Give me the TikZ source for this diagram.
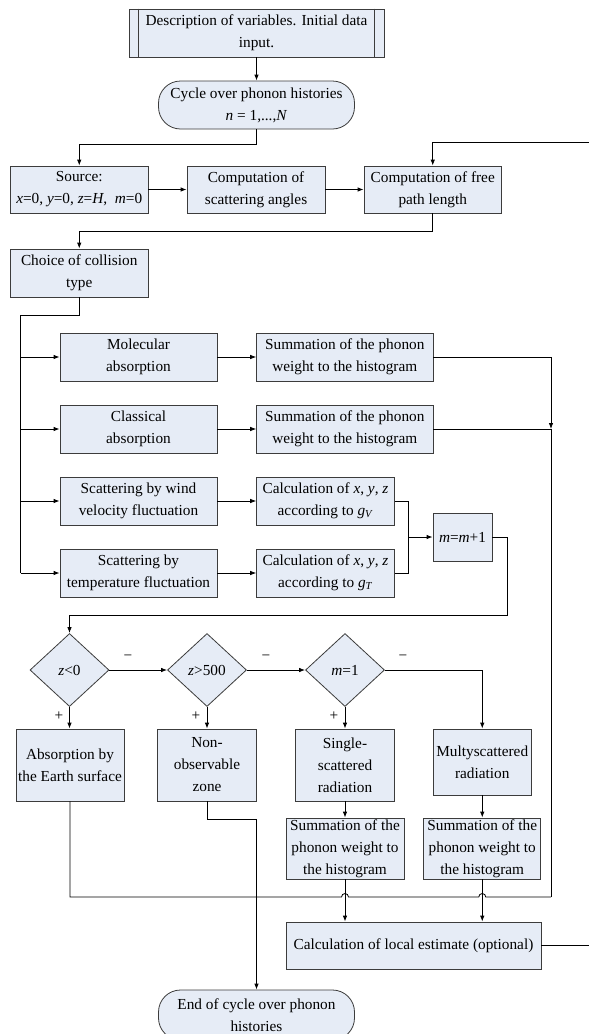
\documentclass[tikz,border=0pt]{standalone}
\usepackage{fontspec}
\setmainfont{Liberation Serif}
\usetikzlibrary{arrows.meta,shapes.geometric}
\definecolor{boxfill}{RGB}{230,236,246}
\definecolor{boxline}{RGB}{60,60,60}
\tikzset{
  x=1pt,y=1pt,
  base/.style={draw=boxline, fill=boxfill, line width=0.8pt, inner sep=1pt, align=center,
    font=\fontsize{15.3}{22}\selectfont, anchor=center},
  box/.style={base, rectangle},
  pill/.style={base, rectangle, rounded corners=22pt},
  dia/.style={base, diamond, inner sep=0pt},
  conn/.style={draw=black, line width=0.8pt},
  arr/.style={conn, -{Latex[length=6pt,width=4.5pt]}},
  lbl/.style={font=\fontsize{15.3}{18}\selectfont, inner sep=0pt}
}
\begin{document}
\begin{tikzpicture}
\clip (0,0) rectangle (589,-1034);
\fill[white] (0,0) rectangle (589,-1034);
% nodes
\node[box, minimum width=255pt, minimum height=48pt] (top) at (256.5,-33) {Description of variables. Initial data\\input.};
\draw[draw=boxline, line width=0.8pt] ([xshift=10pt]top.north west) -- ([xshift=10pt]top.south west);
\draw[draw=boxline, line width=0.8pt] ([xshift=-10pt]top.north east) -- ([xshift=-10pt]top.south east);
\node[pill, minimum width=196pt, minimum height=48pt] (cycle) at (256.5,-105) {Cycle over phonon histories\\\textit{n} = 1,...,\textit{N}};
\node[box, minimum width=137.5pt, minimum height=47pt] (source) at (79.25,-189.5) {Source:\\\textit{x}=0, \textit{y}=0, \textit{z}=\textit{H}, \ \textit{m}=0};
\node[box, minimum width=138pt, minimum height=47pt] (scat) at (256,-189.5) {Computation of\\scattering angles};
\node[box, minimum width=137.5pt, minimum height=47pt] (free) at (432.75,-189.5) {Computation of free\\path length};
\node[box, minimum width=137.5pt, minimum height=48pt] (choice) at (79.25,-273) {Choice of collision\\type};
\node[box, minimum width=157pt, minimum height=48pt] (mol) at (138.5,-357) {Molecular\\absorption};
\node[box, minimum width=176.4pt, minimum height=48pt] (sum1) at (344.8,-357) {Summation of the phonon\\weight to the histogram};
\node[box, minimum width=157pt, minimum height=48pt] (cla) at (138.5,-429) {Classical\\absorption};
\node[box, minimum width=176.4pt, minimum height=48pt] (sum2) at (344.8,-429) {Summation of the phonon\\weight to the histogram};
\node[box, minimum width=157pt, minimum height=48pt] (wind) at (138.5,-501) {Scattering by wind\\velocity fluctuation};
\node[box, minimum width=137.8pt, minimum height=48pt] (calcV) at (325.5,-501) {Calculation of \textit{x}, \textit{y}, \textit{z}\\according to \textit{g}\textsubscript{\textit{V}}};
\node[box, minimum width=157pt, minimum height=48pt] (temp) at (138.5,-573) {Scattering by\\temperature fluctuation};
\node[box, minimum width=137.8pt, minimum height=48pt] (calcT) at (325.5,-573) {Calculation of \textit{x}, \textit{y}, \textit{z}\\according to \textit{g}\textsubscript{\textit{T}}};
\node[box, minimum width=59pt, minimum height=48pt] (minc) at (462.5,-537) {\textit{m}=\textit{m}+1};
\node[dia, minimum width=79pt, minimum height=73pt] (d1) at (69.5,-670) {\textit{z}<0};
\node[dia, minimum width=79pt, minimum height=73pt] (d2) at (207,-670) {\textit{z}>500};
\node[dia, minimum width=79pt, minimum height=73pt] (d3) at (345,-670) {\textit{m}=1};
\node[box, minimum width=108pt, minimum height=72pt] (abs) at (70,-765) {Absorption by\\the Earth surface};
\node[box, minimum width=98.6pt, minimum height=72pt] (non) at (207,-765) {Non-\\observable\\zone};
\node[box, minimum width=98.4pt, minimum height=72pt] (single) at (345,-765) {Single-\\scattered\\radiation};
\node[box, minimum width=98.5pt, minimum height=66pt] (multy) at (482.25,-762) {Multyscattered\\radiation};
\node[box, minimum width=118pt, minimum height=61pt] (sumS) at (345,-848.5) {Summation of the\\phonon weight to\\the histogram};
\node[box, minimum width=117pt, minimum height=61pt] (sumM) at (482.25,-848.5) {Summation of the\\phonon weight to\\the histogram};
\node[box, minimum width=255pt, minimum height=47pt] (local) at (413.5,-945.5) {Calculation of local estimate (optional)};
\node[pill, minimum width=196pt, minimum height=50pt] (endb) at (256.5,-1015) {End of cycle over phonon\\histories};
% coordinates
\coordinate (fbin) at (589,-142);
\coordinate (bus) at (20.7,-315);
\coordinate (mg) at (408.7,-537);
\coordinate (mr) at (507,-615);
\coordinate (rj) at (551,-429);
\coordinate (rb) at (551,-897);
\coordinate (lout) at (589,-945.5);
% connectors
\draw[arr] (top.south) -- (top.south |- cycle.north);
\draw[arr] (cycle.south) -- ++(0,-15) -| (source.north);
\draw[arr] (source.east) -- (scat.west);
\draw[arr] (scat.east) -- (free.west);
\draw[arr] (fbin) -| (free.north);
\draw[arr] (free.south) -- ++(0,-18) -| (choice.north);
\draw[conn] (choice.south) |- (bus) -- (bus |- temp.west);
\draw[arr] (bus |- mol.west) -- (mol.west);
\draw[arr] (bus |- cla.west) -- (cla.west);
\draw[arr] (bus |- wind.west) -- (wind.west);
\draw[arr] (bus |- temp.west) -- (temp.west);
\draw[arr] (mol.east) -- (sum1.west);
\draw[arr] (cla.east) -- (sum2.west);
\draw[arr] (wind.east) -- (calcV.west);
\draw[arr] (temp.east) -- (calcT.west);
\draw[conn] (calcV.east) -| (mg) |- (calcT.east);
\draw[arr] (mg) -- (minc.west);
\draw[arr] (minc.east) -| (mr) -| (d1.north);
\draw[arr] (d1.east) -- (d2.west);
\draw[arr] (d2.east) -- (d3.west);
\draw[arr] (d3.east) -| (multy.north);
\draw[arr] (d1.south) -- (d1.south |- abs.north);
\draw[arr] (d2.south) -- (d2.south |- non.north);
\draw[arr] (d3.south) -- (d3.south |- single.north);
\draw[arr] (single.south) -- (single.south |- sumS.north);
\draw[arr] (multy.south) -- (multy.south |- sumM.north);
\draw[arr] (non.south) -- ++(0,-18) -| (endb.north);
\draw[arr] (sum1.east) -| (rj);
\draw[conn] (sum2.east) -- (rj) -- (rb);
\draw[conn] (abs.south) |- ([xshift=-3.5pt]sumS.south |- rb) arc[start angle=180,end angle=0,radius=3.5pt]
   -- ([xshift=-3.5pt]sumM.south |- rb) arc[start angle=180,end angle=0,radius=3.5pt] -- (rb);
\draw[arr] (sumS.south) -- (sumS.south |- local.north);
\draw[arr] (sumM.south) -- (sumM.south |- local.north);
\draw[conn] (local.east) -- (lout);
% labels
\node[lbl] (m1) at (128,-658) {−};
\node[lbl] (m2) at (266,-658) {−};
\node[lbl] (m3) at (403,-658) {−};
\node[lbl] (p1) at (59,-716) {+};
\node[lbl] (p2) at (196,-716) {+};
\node[lbl] (p3) at (334,-716) {+};
\end{tikzpicture}
\end{document}
